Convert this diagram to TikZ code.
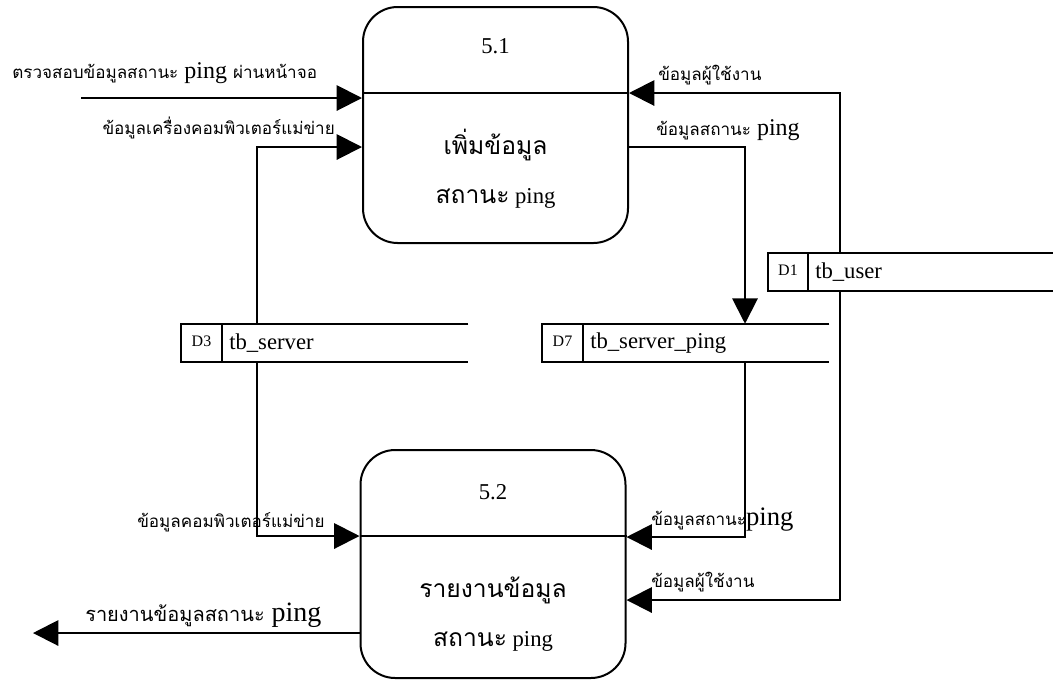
\documentclass[tikz,border=0pt]{standalone}
\usepackage{fontspec}
\setmainfont{Liberation Serif}
\newfontfamily\thai[Script=Thai]{Loma}
\usetikzlibrary{arrows.meta,calc}
% Thai run inside a Latin label
\newcommand\thx[1]{{\thai\fontsize{12.8}{14}\selectfont #1}}
\newcommand\thbig[1]{{\thai\fontsize{18.5}{20}\selectfont #1}}

\begin{document}
\begin{tikzpicture}[x=0.75pt,y=-0.75pt,
  proc/.style={draw,line width=1.5pt,rounded corners=26pt,minimum width=198.75pt,inner sep=0},
  storebox/.style={minimum height=28.5pt,inner sep=0},
  flow/.style={line width=1.5pt,-{Triangle[length=19pt,width=19pt]}},
  lbl/.style={inner sep=0,font=\fontsize{18}{20}\selectfont},
  numtxt/.style={inner sep=0,font=\fontsize{17}{20}\selectfont},
  proctxt/.style={inner sep=0,font=\fontsize{17}{20}\selectfont},
  sid/.style={inner sep=0,font=\fontsize{12}{14}\selectfont},
  sname/.style={inner sep=0,anchor=west,font=\fontsize{17}{20}\selectfont},
]
\useasboundingbox (0,0) rectangle (1053,687);

% processes
\node[proc,minimum height=177pt] (p1) at (495.5,125) {};
\draw[line width=1.2pt] (p1.west |- 0,93) -- (p1.east |- 0,93);
\node[numtxt] (p1n) at (495.5,46) {5.1};
\node[proctxt] (p1a) at (495.5,145) {\thbig{เพิ่มข้อมูล}};
\node[proctxt] (p1b) at (495.5,198) {\thbig{สถานะ} ping};

\node[proc,minimum height=171pt] (p2) at (493,564) {};
\draw[line width=1.2pt] (p2.west |- 0,536) -- (p2.east |- 0,536);
\node[numtxt] (p2n) at (493,492) {5.2};
\node[proctxt] (p2a) at (493,590) {\thbig{รายงานข้อมูล}};
\node[proctxt] (p2b) at (493,641) {\thbig{สถานะ} ping};

% data stores
\node[storebox,minimum width=215.25pt] (d3) at (324.5,343) {};
\draw[line width=1.8pt] (d3.north east) -- (d3.north west) -- (d3.south west) -- (d3.south east);
\draw[line width=1.5pt] ($(d3.north west)+(41,0)$) -- ($(d3.south west)+(41,0)$);
\node[sid] (d3id) at (201.5,341) {D3};
\node[sname] (d3nm) at (229,343) {tb\_server};

\node[storebox,minimum width=215.25pt] (d7) at (685.5,343) {};
\draw[line width=1.8pt] (d7.north east) -- (d7.north west) -- (d7.south west) -- (d7.south east);
\draw[line width=1.5pt] ($(d7.north west)+(41,0)$) -- ($(d7.south west)+(41,0)$);
\node[sid] (d7id) at (562.5,341) {D7};
\node[sname] (d7nm) at (590,343) {tb\_server\_ping};

\node[storebox,minimum width=216pt] (d1) at (912,272) {};
\draw[line width=1.8pt] (d1.north east) -- (d1.north west) -- (d1.south west) -- (d1.south east);
\draw[line width=1.5pt] ($(d1.north west)+(40,0)$) -- ($(d1.south west)+(40,0)$);
\node[sid] (d1id) at (788,270) {D1};
\node[sname] (d1nm) at (815,272) {tb\_user};

% free ends
\coordinate (src) at (81,98);
\coordinate (sink) at (33,633);

% data flows
\draw[flow] (src) -- (p1.west |- src);
\draw[flow] (d3.north -| 257,0) |- (p1.west |- 0,147);
\draw[flow] (d1.north -| 840,0) |- (p1.east |- 0,93);
\draw[flow] (p1.east |- 0,147) -| (d7.north -| 745,0);
\draw[flow] (d3.south -| 257,0) |- (p2.west |- 0,536);
\draw[flow] (d7.south -| 745,0) |- (p2.east |- 0,537);
\draw[flow] (d1.south -| 840,0) |- (p2.east |- 0,600);
\draw[flow] (p2.west |- sink) -- (sink);

% flow labels
\node[lbl,anchor=west] (l1) at (12,73) {\thx{ตรวจสอบข้อมูลสถานะ} ping \thx{ผ่านหน้าจอ}};
\node[lbl,anchor=east] (l2) at (335,128) {\thx{ข้อมูลเครื่องคอมพิวเตอร์แม่ข่าย}};
\node[lbl,anchor=west] (l3) at (658,75) {\thx{ข้อมูลผู้ใช้งาน}};
\node[lbl,anchor=west] (l4) at (656,130) {\thx{ข้อมูลสถานะ} ping};
\node[lbl,anchor=west] (l5) at (137,522) {\thx{ข้อมูลคอมพิวเตอร์แม่ข่าย}};
\node[lbl,anchor=west,font=\fontsize{20}{22}\selectfont] (l6) at (651,520) {\thx{ข้อมูลสถานะ}ping};
\node[lbl,anchor=west] (l7) at (651,582) {\thx{ข้อมูลผู้ใช้งาน}};
\node[lbl,anchor=west,font=\fontsize{21}{22}\selectfont] (l8) at (85,615) {{\thai\fontsize{15}{16}\selectfont รายงานข้อมูลสถานะ} ping};
\end{tikzpicture}
\end{document}
